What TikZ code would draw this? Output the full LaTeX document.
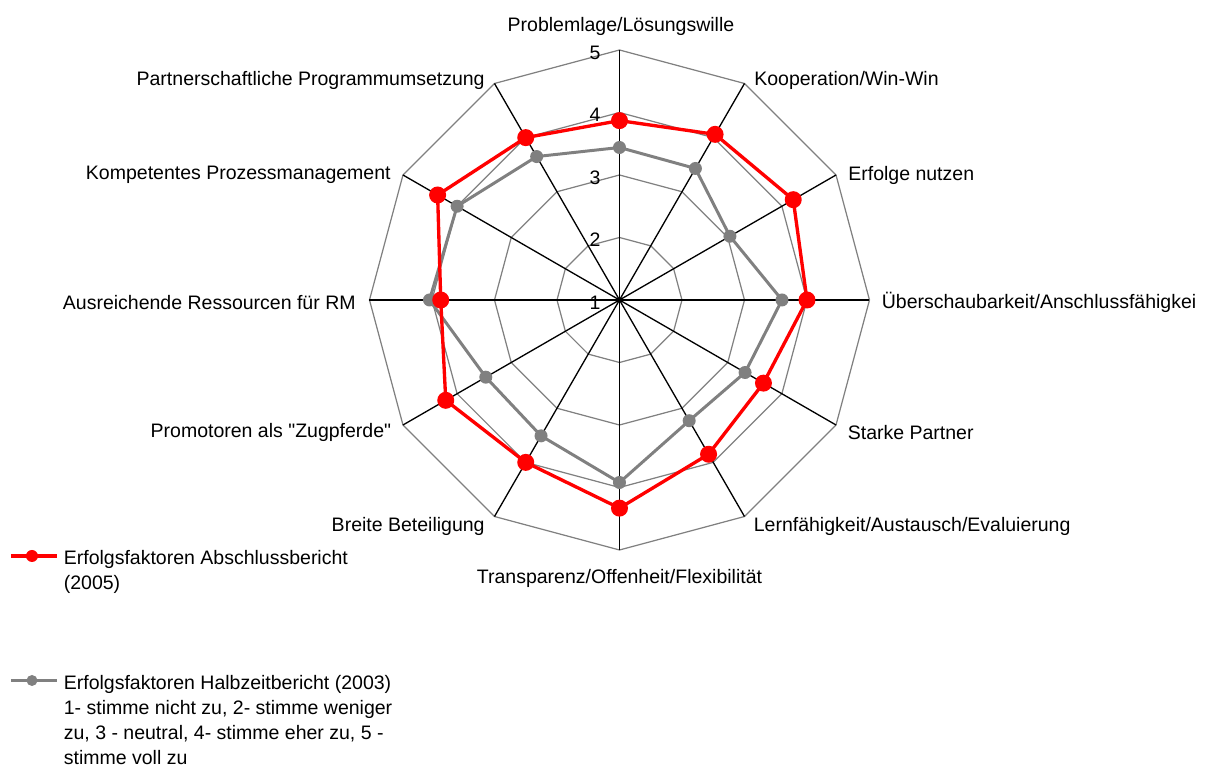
\documentclass[tikz,border=0pt]{standalone}
\usepackage{fontspec}
\setmainfont{Liberation Sans}[Ligatures=TeXOff]
\usetikzlibrary{positioning, calc}
\definecolor{srred}{RGB}{255,0,0}
\definecolor{srgray}{RGB}{128,128,128}

\begin{document}
\begin{tikzpicture}[
  every node/.style={font=\fontsize{11.1}{14.2}\selectfont, inner sep=0pt},
  ringline/.style={draw=srgray, line width=0.7pt},
  spoke/.style={draw=black, line width=0.75pt},
  redline/.style={draw=srred, line width=1.9pt, line join=round},
  grayline/.style={draw=srgray, line width=1.7pt, line join=round},
  redmark/.style={circle, fill=srred, minimum size=0.34cm},
  graymark/.style={circle, fill=srgray, minimum size=0.26cm},
  axlabel/.style={text=black},
  legtext/.style={align=left, anchor=north west, text=black},
]
\useasboundingbox (-12.39,-9.34) rectangle (11.73,6.0);

% Rings and spokes
\coordinate (c) at (0,0);
\foreach \r in {1.25,2.5,3.75,5}
  \draw[ringline] (90:\r) \foreach \a in {60,30,...,-240} {-- (\a:\r)} -- cycle;
\foreach \i in {0,...,11} {
  \coordinate (ax\i) at ({90-30*\i}:5);
  \draw[spoke] (c) -- (ax\i);
}

% Scale labels
\node (s1) at (-0.49,-0.05) {1};
\node (s2) at (-0.49,1.20) {2};
\node (s3) at (-0.49,2.45) {3};
\node (s4) at (-0.49,3.70) {4};
\node (s5) at (-0.49,4.95) {5};

% Axis labels
\node[axlabel] (lab0) at (0.03,5.48) {Problemlage/Lösungswille};
\node[axlabel, anchor=west] (lab1) at (2.69,4.39) {Kooperation/Win-Win};
\node[axlabel, anchor=west] (lab2) at (4.57,2.50) {Erfolge nutzen};
\node[axlabel, anchor=west] (lab3) at (5.24,-0.05) {Überschaubarkeit/Anschlussfähigkei};
\node[axlabel, anchor=west] (lab4) at (4.56,-2.65) {Starke Partner};
\node[axlabel, anchor=west] (lab5) at (2.68,-4.53) {Lernfähigkeit/Austausch/Evaluierung};
\node[axlabel] (lab6) at (0,-5.56) {Transparenz/Offenheit/Flexibilität};
\node[axlabel, anchor=east] (lab7) at (-2.69,-4.53) {Breite Beteiligung};
\node[axlabel, anchor=east] (lab8) at (-4.56,-2.65) {Promotoren als "Zugpferde"};
\node[axlabel, anchor=east] (lab9) at (-5.27,-0.05) {Ausreichende Ressourcen für RM};
\node[axlabel, anchor=east] (lab10) at (-4.57,2.51) {Kompetentes Prozessmanagement};
\node[axlabel, anchor=east] (lab11) at (-2.69,4.40) {Partnerschaftliche Programmumsetzung};

% Halbzeitbericht 2003
\foreach \v [count=\i from 0] in {3.44,3.43,3.04,3.60,3.32,3.23,3.92,3.51,3.47,4.04,4.00,3.65}
  \coordinate (g\i) at ({90-30*\i}:{(\v-1)*1.25});
\draw[grayline] (g0) -- (g1) -- (g2) -- (g3) -- (g4) -- (g5) -- (g6) -- (g7) -- (g8) -- (g9) -- (g10) -- (g11) -- cycle;
\foreach \i in {0,...,11}
  \node[graymark] (gm\i) at (g\i) {};

% Abschlussbericht 2005
\foreach \v [count=\i from 0] in {3.87,4.06,4.21,4.00,3.66,3.85,4.33,4.00,4.21,3.86,4.36,4.00}
  \coordinate (r\i) at ({90-30*\i}:{(\v-1)*1.25});
\draw[redline] (r0) -- (r1) -- (r2) -- (r3) -- (r4) -- (r5) -- (r6) -- (r7) -- (r8) -- (r9) -- (r10) -- (r11) -- cycle;
\foreach \i in {0,...,11}
  \node[redmark] (rm\i) at (r\i) {};

% Legend
\coordinate (lr1) at (-12.17,-5.12);
\coordinate (lr2) at (-11.25,-5.12);
\draw[redline] (lr1) -- (lr2);
\node[redmark, minimum size=0.24cm] (lrm) at (-11.75,-5.12) {};
\node[legtext] (lrt) at (-11.12,-5.0) {Erfolgsfaktoren Abschlussbericht\\(2005)};

\coordinate (lg1) at (-12.17,-7.61);
\coordinate (lg2) at (-11.25,-7.61);
\draw[grayline] (lg1) -- (lg2);
\node[graymark, minimum size=0.22cm] (lgm) at (-11.75,-7.61) {};
\node[legtext] (lgt) at (-11.12,-7.51) {Erfolgsfaktoren Halbzeitbericht (2003)\\1- stimme nicht zu, 2- stimme weniger\\zu, 3 - neutral, 4- stimme eher zu, 5 -\\stimme voll zu};

\end{tikzpicture}
\end{document}
